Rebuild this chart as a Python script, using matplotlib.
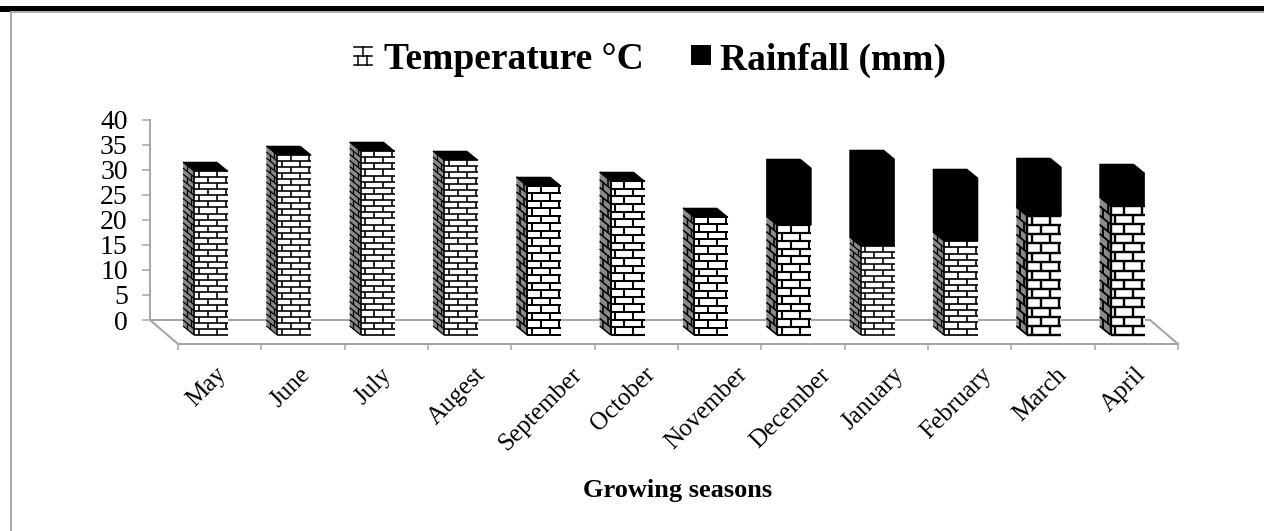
import matplotlib
matplotlib.use("Agg")
import matplotlib.pyplot as plt
from matplotlib.patches import Polygon, Rectangle
from matplotlib.collections import LineCollection
from matplotlib.legend_handler import HandlerBase
from matplotlib.lines import Line2D

plt.rcParams['font.family'] = ['Liberation Serif', 'DejaVu Serif']

categories = ["May", "June", "July", "Augest", "September", "October", "November",
              "December", "January", "February", "March", "April"]
temperature = [32.8, 36.0, 36.8, 35.0, 29.8, 30.8, 23.6, 22.0, 17.8, 18.8, 23.8, 25.8]
rainfall = [0, 0, 0, 0, 0, 0, 0, 11.4, 17.4, 12.6, 9.8, 6.6]
courses = [27, 30, 30, 29, 20, 20, 16, 14, 15, 15, 13, 14]
y_ticks = [0, 5, 10, 15, 20, 25, 30, 35, 40]

W, H = 1264, 531
GRAY = "#a6a6a6"
fig = plt.figure(figsize=(W / 100, H / 100), dpi=100, facecolor="white")


def box(x0, y0, x1, y1):
    return [x0 / W, 1 - y1 / H, (x1 - x0) / W, (y1 - y0) / H]


# page frame
fig.add_artist(Rectangle((0, 1 - 11.5 / H), 1, 5.5 / H, transform=fig.transFigure, color="black", lw=0))
fig.add_artist(Rectangle((10 / W, 1 - 12.5 / H), 1 - 10 / W, 1.2 / H, transform=fig.transFigure, color="#b0b0b0", lw=0))
fig.add_artist(Rectangle((10 / W, 0), 2 / W, 1 - 11.5 / H, transform=fig.transFigure, color="#a8a8a8", lw=0))

# back wall axes (value scale)
ax = fig.add_axes(box(150, 120, 1150, 320))
ax.set_xlim(0, len(categories))
ax.set_ylim(0, 40)
ax.patch.set_alpha(0)
for s in ("top", "right", "bottom"):
    ax.spines[s].set_visible(False)
ax.spines["left"].set_color(GRAY)
ax.spines["left"].set_linewidth(1.4)
ax.set_xticks([])
ax.set_yticks(y_ticks)
ax.tick_params(axis="y", length=6, width=1.1, color=GRAY, labelsize=20, pad=10)

# floor, in wall data units
DX_FLOOR, DY_FLOOR = 28 / 83.333, -24 / 5
n = len(categories)
floor = dict(color=GRAY, lw=1.5, clip_on=False, zorder=1, solid_capstyle="round")
ax.plot([0, n], [0, 0], **floor)
ax.plot([0, DX_FLOOR], [0, DY_FLOOR], **floor)
ax.plot([n, n + DX_FLOOR], [0, DY_FLOOR], **floor)

# front axis carries category labels
axf = fig.add_axes(box(178, 300, 1178, 344))
axf.set_xlim(0, n)
axf.set_ylim(0, 1)
axf.patch.set_alpha(0)
for s in ("top", "right", "left"):
    axf.spines[s].set_visible(False)
axf.spines["bottom"].set_color(GRAY)
axf.spines["bottom"].set_linewidth(1.5)
axf.set_yticks([])
axf.set_xticks(range(n + 1))
axf.tick_params(axis="x", which="major", length=4, width=1.1, color=GRAY, labelbottom=False)
axf.set_xticks([i + 0.345 for i in range(n)], minor=True)
axf.set_xticklabels(categories, minor=True, rotation=45, ha="center", va="top", rotation_mode="default", fontsize=18)
axf.tick_params(axis="x", which="minor", length=0, pad=14)
axf.set_xlabel("Growing seasons", fontsize=19, fontweight="bold")
axf.xaxis.set_label_coords(0.5, -3.07)

# bar geometry in wall data units
FRONT_X = 0.528
WIDTH = 34 / 83.333
BASE = -3.0
DEPTH_X = -11 / 83.333
DEPTH_Y = 9 / 5
BRICK = 18 / 83.333

for i, (t, r, c) in enumerate(zip(temperature, rainfall, courses)):
    x0 = i + FRONT_X
    x1 = x0 + WIDTH
    yt = BASE + t
    ytop = yt + r
    xb = x0 + DEPTH_X
    kw = dict(clip_on=False, zorder=3, lw=0)
    # brick faces
    ax.add_patch(Polygon([(x0, BASE), (x1, BASE), (x1, yt), (x0, yt)], fc="white", **kw))
    ax.add_patch(Polygon([(xb, BASE + DEPTH_Y), (x0, BASE), (x0, yt), (xb, yt + DEPTH_Y)], fc="#8a8a8a", **kw))
    h = t / c
    lw = min(2.4, max(1.25, h * 5 * 0.27)) * 0.72
    front, side = [], []
    for k in range(c + 1):
        y = BASE + k * h
        side.append([(xb, y + DEPTH_Y), (x0, y)])
        front.append([(x0, y), (x1, y)])
        if k < c:
            # staggered vertical joints
            start = BRICK / 4 if k % 2 == 0 else 3 * BRICK / 4
            xv = x0 + start
            while xv < x1:
                front.append([(xv, y), (xv, y + h)])
                xv += BRICK
            frac = 0.33 if k % 2 == 0 else 0.72
            xs = xb + (x0 - xb) * frac
            side.append([(xs, y + DEPTH_Y * (1 - frac)), (xs, y + h + DEPTH_Y * (1 - frac))])
    front.append([(x0, BASE), (x0, yt)])
    ax.add_collection(LineCollection(front, colors="black", linewidths=lw, clip_on=False, zorder=4))
    ax.add_collection(LineCollection(side, colors="black", linewidths=lw * 0.75, clip_on=False, zorder=4))
    # rainfall segment with its side and top, as one black outline
    ax.add_patch(Polygon([(xb, yt + DEPTH_Y), (x0, yt), (x1, yt), (x1, ytop),
                          (x1 + DEPTH_X, ytop + DEPTH_Y), (xb, ytop + DEPTH_Y)],
                         fc="black", ec="black", lw=0.4, clip_on=False, zorder=5))


class BrickHandler(HandlerBase):
    def create_artists(self, legend, orig, xd, yd, width, height, fontsize, trans):
        s = 13
        x0 = -xd + width - s - 2.4
        y0 = -yd + 3
        arts = []
        for a, b in [((0, 1), (1, 1)), ((0, .5), (1, .5)), ((0, 0), (1, 0)),
                     ((.5, .5), (.5, 1)), ((.25, 0), (.25, .5)), ((.75, 0), (.75, .5))]:
            arts.append(Line2D([x0 + a[0] * s, x0 + b[0] * s], [y0 + a[1] * s, y0 + b[1] * s],
                               color="black", lw=1.1, transform=trans))
        return arts


class SquareHandler(HandlerBase):
    def create_artists(self, legend, orig, xd, yd, width, height, fontsize, trans):
        s = 14.4
        return [Rectangle((-xd + width - s, -yd + 3), s, s, fc="black", lw=0, transform=trans)]


h1, h2 = Line2D([], []), Rectangle((0, 0), 1, 1)
leg = fig.legend([h1, h2], ["Temperature °C", "Rainfall (mm)"], ncol=2, frameon=False,
                 loc="center", bbox_to_anchor=(645.5 / W, 1 - 60 / H), handler_map={h1: BrickHandler(), h2: SquareHandler()},
                 prop=dict(size=27, weight="bold"), handlelength=0.8, handletextpad=0.25, columnspacing=0.97)

fig.savefig("out.png", dpi=100)
